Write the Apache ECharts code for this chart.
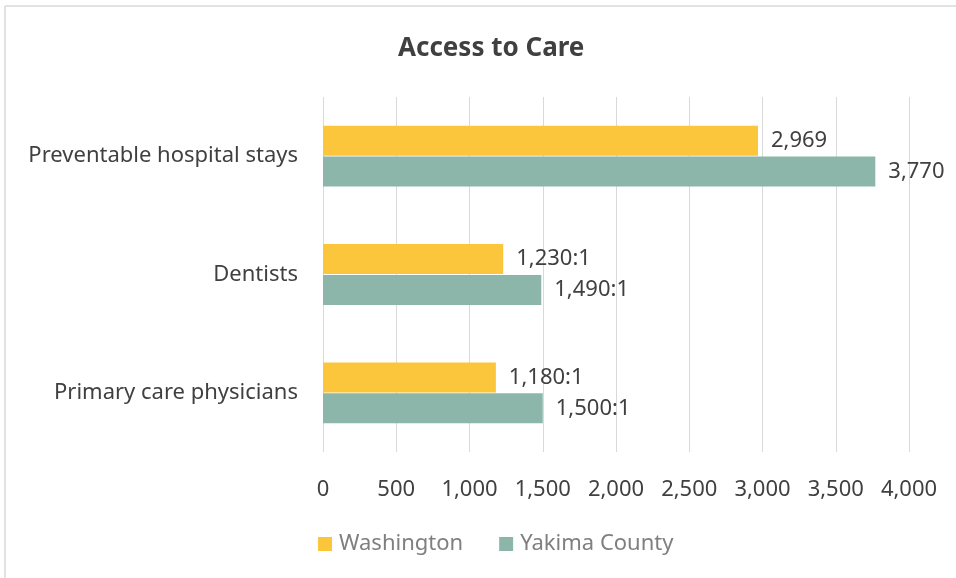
<!DOCTYPE html>
<html>
<head>
<meta charset="utf-8">
<script src="https://cdn.jsdelivr.net/npm/echarts@6/dist/echarts.min.js"></script>
<style>
  html, body { margin: 0; padding: 0; background: #fff; }
  #chart { width: 956px; height: 578px; }
</style>
</head>
<body>
<div id="chart"></div>
<script>
// 分类（自下而上）
var categories = ['Primary care physicians', 'Dentists', 'Preventable hospital stays']
// 数值
var washington = [1180, 1230, 2969]
var yakima = [1500, 1490, 3770]
// 数据标签后缀（比例类加 ":1"）
var suffixes = [':1', ':1', '']
var xTicks = [0, 500, 1000, 1500, 2000, 2500, 3000, 3500, 4000]

var FONT = '"Noto Sans", "Open Sans", sans-serif'

var fmt = function (v) {
	return v.toLocaleString('en-US')
}

var labelOf = function (params) {
	return fmt(params.value) + suffixes[params.dataIndex]
}

var chart = echarts.init(document.getElementById('chart'))

chart.setOption({
	backgroundColor: '#fff',
	animation: false,
	title: {
		text: 'Access to Care',
		left: 393,
		top: 31,
		textStyle: { fontFamily: FONT, fontSize: 26, fontWeight: 'bold', color: '#404040' }
	},
	legend: {
		bottom: 18,
		left: 313,
		itemWidth: 14,
		itemHeight: 14,
		itemGap: 36,
		icon: 'rect',
		textStyle: { fontFamily: FONT, fontSize: 22, color: '#7f7f7f', padding: [0, 0, 0, 2] },
		data: ['Washington', 'Yakima County']
	},
	grid: { left: 323, right: 47, top: 97, bottom: 126 },
	xAxis: {
		type: 'value',
		min: xTicks[0],
		max: xTicks[xTicks.length - 1],
		interval: 500,
		axisLine: { show: false },
		axisTick: { show: false },
		splitLine: { lineStyle: { color: '#d9d9d9', width: 1 } },
		axisLabel: { fontFamily: FONT, fontSize: 22, color: '#404040', margin: 27, formatter: fmt }
	},
	yAxis: {
		type: 'category',
		data: categories,
		axisLine: { show: false },
		axisTick: { show: false },
		axisLabel: { fontFamily: FONT, fontSize: 22, color: '#404040', margin: 25 }
	},
	series: [
		{
			name: 'Washington',
			type: 'bar',
			data: washington,
			barWidth: 30,
			barGap: '3%',
			itemStyle: { color: '#fbc63b' },
			label: {
				show: true, position: 'right', distance: 13,
				fontFamily: FONT, fontSize: 22, color: '#404040', formatter: labelOf
			}
		},
		{
			name: 'Yakima County',
			type: 'bar',
			data: yakima,
			barWidth: 30,
			itemStyle: { color: '#8db6ab' },
			label: {
				show: true, position: 'right', distance: 13,
				fontFamily: FONT, fontSize: 22, color: '#404040', formatter: labelOf
			}
		}
	],
	graphic: [
		{ type: 'line', shape: { x1: 5, y1: 6, x2: 956, y2: 6 }, style: { stroke: '#d9d9d9', lineWidth: 1.5 } },
		{ type: 'line', shape: { x1: 5, y1: 6, x2: 5, y2: 578 }, style: { stroke: '#d9d9d9', lineWidth: 1.5 } }
	]
})
</script>
</body>
</html>
